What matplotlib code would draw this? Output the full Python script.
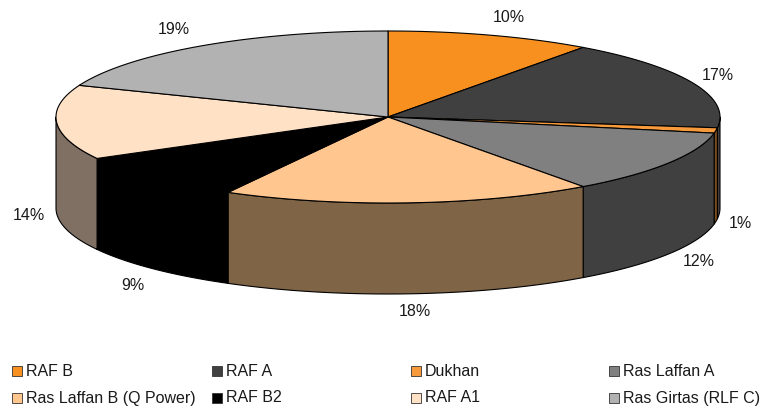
import numpy as np
import matplotlib
matplotlib.use("Agg")
import matplotlib.pyplot as plt
from matplotlib.patches import Rectangle

plt.rcParams['font.family'] = ['Liberation Sans', 'DejaVu Sans']

names = ['RAF B', 'RAF A', 'Dukhan', 'Ras Laffan A',
         'Ras Laffan B (Q Power)', 'RAF B2', 'RAF A1', 'Ras Girtas (RLF C)']
shares = [10, 17, 1, 12, 18, 9, 14, 19]

top_colors = ['#F7901E', '#404040', '#F79A3C', '#808080',
              '#FFC78F', '#000000', '#FFE1C6', '#B2B2B2']
side_colors = ['#7C4A10', '#404040', '#7C4D1E', '#404040',
               '#7F6446', '#000000', '#7F7063', '#595959']

# pie geometry, in pixels
cx, cy = 388, 117
rx, ry = 332, 86
depth = 91

label_xy = [(509, 18), (718, 75), (740, 223), (699, 262),
            (415, 311), (133, 285), (29, 215), (174, 30)]

legend_x = [12, 212, 411, 609]
legend_y = [371, 398]


def rim(a0, a1):
    # angle runs clockwise from twelve o'clock
    t = np.radians(np.linspace(a0, a1, 120))
    return cx + rx * np.sin(t), cy - ry * np.cos(t)


fig = plt.figure(figsize=(7.64, 4.07), dpi=100)
ax = fig.add_axes([0, 0, 1, 1])
ax.set_xlim(0, 764)
ax.set_ylim(407, 0)
ax.axis('off')

edges = np.cumsum([0] + shares) * 3.6

# outer wall, only the front half of the cylinder shows
for i in range(len(shares)):
    a0 = max(edges[i], 90)
    a1 = min(edges[i + 1], 270)
    if a1 <= a0:
        continue
    x, y = rim(a0, a1)
    ax.fill(np.r_[x, x[::-1]], np.r_[y, y[::-1] + depth],
            facecolor=side_colors[i], edgecolor='black', lw=0.8, joinstyle='round')

# top face
for i in range(len(shares)):
    x, y = rim(edges[i], edges[i + 1])
    ax.fill(np.r_[cx, x], np.r_[cy, y],
            facecolor=top_colors[i], edgecolor='black', lw=0.8, joinstyle='round')

for share, (lx, ly) in zip(shares, label_xy):
    ax.text(lx, ly, f'{share}%', ha='center', va='center', fontsize=11.5, color='#1a1a1a')

# legend, four columns by two rows
for i, name in enumerate(names):
    lx = legend_x[i % 4]
    ly = legend_y[i // 4]
    ax.add_patch(Rectangle((lx, ly - 5), 10, 10, facecolor=top_colors[i],
                           edgecolor='#333333', lw=0.6))
    ax.text(lx + 14, ly, name, ha='left', va='center', fontsize=11.5, color='#1a1a1a')

fig.savefig('out.png', dpi=100)
